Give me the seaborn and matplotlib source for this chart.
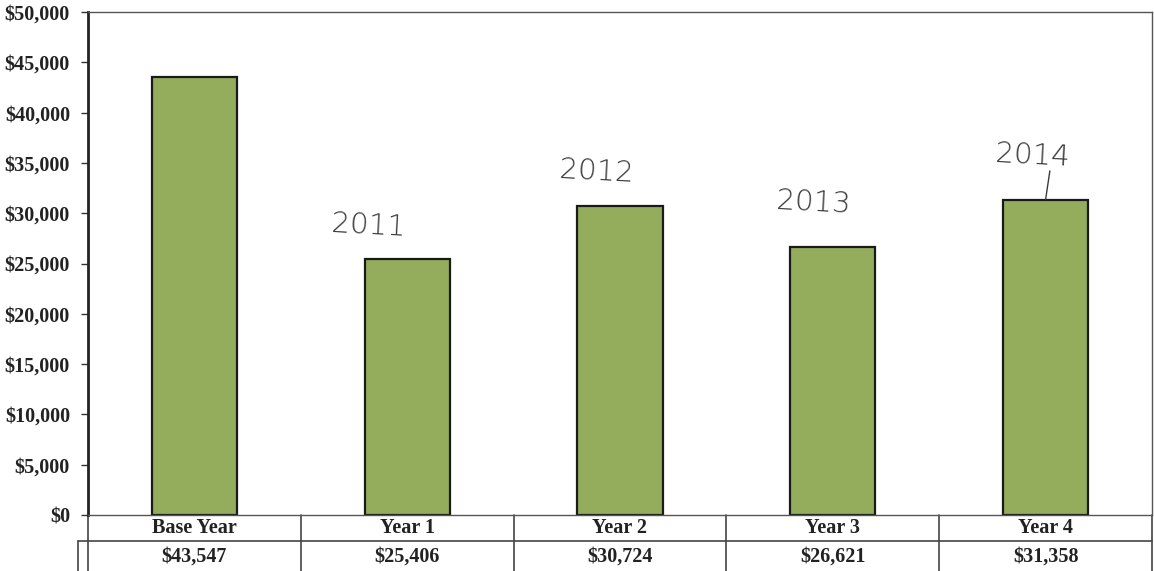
import matplotlib
matplotlib.use("Agg")
import matplotlib.pyplot as plt
import matplotlib.transforms as mtransforms
import seaborn as sns
import pandas as pd

categories = ["Base Year", "Year 1", "Year 2", "Year 3", "Year 4"]
values = [43547, 25406, 30724, 26621, 31358]
value_labels = ["$43,547", "$25,406", "$30,724", "$26,621", "$31,358"]
notes = ["", "2011", "2012", "2013", "2014"]
yticks = list(range(0, 50001, 5000))

sns.set_style("white")
plt.rcParams['font.family'] = ['Liberation Serif', 'DejaVu Serif']

fig = plt.figure(figsize=(11.54, 5.71), dpi=100)
ax = fig.add_axes([88/1154, 1-515/571, (1152-88)/1154, (515-12)/571])

df = pd.DataFrame({"cat": categories, "val": values})
sns.barplot(data=df, x="cat", y="val", ax=ax, color="#93ad5c", saturation=1,
            width=0.4, edgecolor="#1a1a1a", linewidth=1.6)

ax.set_xlim(-0.5, 4.5)
ax.set_ylim(0, 50000)
ax.set_yticks(yticks)
ax.set_yticklabels([f"${v:,}" for v in yticks], fontsize=14.5, fontweight="bold", color="#222222")
ax.set_xticks([])
ax.set_xlabel("")
ax.set_ylabel("")
ax.tick_params(axis="y", direction="out", length=5, width=1, color="#333333", pad=8, left=True)
for s in ["top", "right", "bottom"]:
    ax.spines[s].set_visible(True)
    ax.spines[s].set_color("#555555")
    ax.spines[s].set_linewidth(1.0)
ax.spines["left"].set_color("#222222")
ax.spines["left"].set_linewidth(2.0)

# Data table below the axis
tr = mtransforms.blended_transform_factory(ax.transData, ax.transAxes)
h = 503.0
row1_bot = -26 / h
row2_bot = -57 / h
lc = "#444444"
for i in range(len(categories) + 1):
    x = i - 0.5
    ax.plot([x, x], [0, row2_bot], transform=tr, color=lc, lw=1.2, clip_on=False)
ax.plot([-0.5, 4.5], [row1_bot, row1_bot], transform=tr, color=lc, lw=1.2, clip_on=False)
ax.plot([-0.5, 4.5], [row2_bot, row2_bot], transform=tr, color=lc, lw=1.2, clip_on=False)
# small key cell on the left of the value row
trf = mtransforms.blended_transform_factory(fig.transFigure, ax.transAxes)
ax.plot([78/1154, 88/1154], [row1_bot, row1_bot], transform=trf, color=lc, lw=1.2, clip_on=False)
ax.plot([78/1154, 78/1154], [row1_bot, row2_bot], transform=trf, color=lc, lw=1.2, clip_on=False)

for i, (c, v) in enumerate(zip(categories, value_labels)):
    ax.text(i, row1_bot / 2, c, transform=tr, ha="center", va="center",
            fontsize=14.5, fontweight="bold", color="#222222", clip_on=False)
    ax.text(i, (row1_bot + row2_bot) / 2, v, transform=tr, ha="center", va="center",
            fontsize=14.5, fontweight="bold", color="#222222", clip_on=False)

# Handwritten notes
note_pos = {1: (-0.18, 28700), 2: (-0.11, 34100), 3: (-0.09, 31000), 4: (-0.06, 35700)}
for i, n in enumerate(notes):
    if n:
        dx, y = note_pos[i]
        ax.text(i + dx, y, n, ha="center", va="center", fontsize=21,
                fontfamily=["DejaVu Sans"], fontweight="light", color="#3a3a3a",
                rotation=-3)
ax.plot([4.02, 4.0], [34200, values[4]], color="#3a3a3a", lw=1.0)

fig.savefig("out.png", dpi=100, facecolor="white")
